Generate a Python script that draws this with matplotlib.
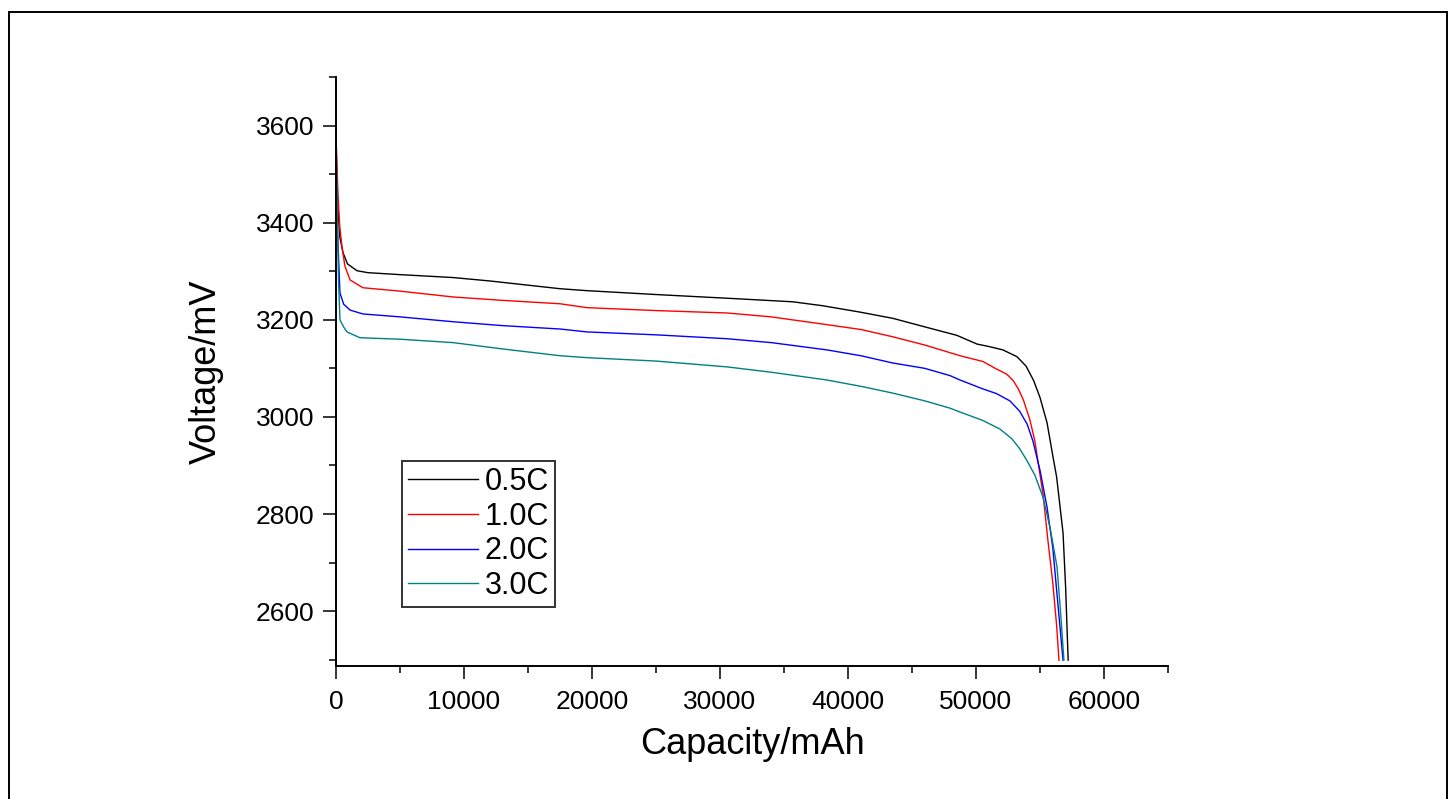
import matplotlib
matplotlib.use("Agg")
import matplotlib.pyplot as plt
from matplotlib.patches import Rectangle
from matplotlib.ticker import MultipleLocator

plt.rcParams['font.family'] = ['Liberation Sans Narrow', 'Liberation Sans', 'DejaVu Sans']

# discharge curves (capacity mAh, voltage mV)
cap_05 = [0, 150, 300, 550, 900, 1640, 2500, 5000, 9140, 12000, 17500, 19600, 25000,
          31560, 35700, 38000, 40900, 43500, 46200, 48500, 50080, 51000, 52100, 53200,
          53900, 54500, 55000, 55550, 56000, 56300, 56800, 57000, 57200]
volt_05 = [3560, 3430, 3370, 3338, 3315, 3301, 3297, 3293, 3287, 3280, 3264, 3260, 3252,
           3243, 3237, 3229, 3216, 3203, 3184, 3168, 3150, 3145, 3138, 3124,
           3105, 3075, 3040, 2988, 2920, 2876, 2761, 2650, 2499]

cap_10 = [0, 150, 300, 470, 700, 1100, 2100, 5000, 9140, 13000, 17500, 19600, 25000,
          30550, 34000, 38350, 41000, 43500, 46000, 48750, 50550, 51500, 52400, 52900,
          53300, 53700, 54200, 54600, 55240, 55600, 56000, 56300, 56480]
volt_10 = [3580, 3460, 3390, 3350, 3310, 3282, 3266, 3259, 3247, 3240, 3233, 3225, 3219,
           3214, 3206, 3190, 3180, 3165, 3148, 3126, 3114, 3100, 3088, 3075,
           3058, 3035, 2995, 2950, 2840, 2750, 2658, 2570, 2499]

cap_20 = [0, 120, 310, 600, 1100, 2100, 5000, 9140, 13000, 17500, 19600, 25000,
          30550, 34000, 38350, 41000, 43500, 46000, 47970, 48750, 50500, 51600, 52650,
          53400, 54000, 54450, 55000, 55550, 56000, 56300, 56800]
volt_20 = [3540, 3380, 3255, 3232, 3220, 3212, 3206, 3196, 3188, 3181, 3175, 3169,
           3161, 3153, 3138, 3126, 3111, 3100, 3085, 3076, 3058, 3048, 3033,
           3012, 2985, 2950, 2890, 2814, 2730, 2643, 2499]

cap_30 = [0, 100, 200, 310, 600, 860, 1875, 5000, 9140, 13000, 17500, 19600, 25000,
          30550, 34000, 38350, 41000, 43500, 46000, 47970, 48750, 50500, 51870, 52800,
          53400, 53980, 54600, 55230, 55800, 56330, 56600, 56870]
volt_30 = [3600, 3420, 3280, 3200, 3185, 3175, 3163, 3160, 3153, 3140, 3126, 3122, 3115,
           3103, 3092, 3076, 3063, 3049, 3033, 3018, 3010, 2993, 2975, 2955,
           2935, 2910, 2880, 2835, 2770, 2691, 2600, 2499]

labels = ['0.5C', '1.0C', '2.0C', '3.0C']
colors = ['#000000', '#ff0000', '#0000ff', '#008080']

fig = plt.figure(figsize=(14.54, 7.99), dpi=100)
ax = fig.add_axes([336 / 1454, 133 / 799, 832 / 1454, 589 / 799])

series = [(cap_05, volt_05), (cap_10, volt_10), (cap_20, volt_20), (cap_30, volt_30)]
for (x, y), lab, c in zip(series, labels, colors):
    ax.plot(x, y, color=c, lw=1.0, label=lab)

ax.set_xlim(0, 65000)
ax.set_ylim(2487, 3700)
ax.xaxis.set_major_locator(MultipleLocator(10000))
ax.xaxis.set_minor_locator(MultipleLocator(5000))
ax.yaxis.set_major_locator(MultipleLocator(200))
ax.yaxis.set_minor_locator(MultipleLocator(100))

for side in ['top', 'right']:
    ax.spines[side].set_visible(False)
for side in ['left', 'bottom']:
    ax.spines[side].set_linewidth(1.4)

ax.tick_params(which='major', direction='out', length=9.5, width=1.1, labelsize=19)
ax.tick_params(which='minor', direction='out', length=5, width=1.1)
ax.tick_params(axis='y', which='major', pad=6)
ax.tick_params(axis='x', which='major', pad=8)

ax.set_xlabel('Capacity/mAh', fontsize=26, labelpad=9)
ax.set_ylabel('Voltage/mV', fontsize=26, labelpad=23)

leg = ax.legend(loc='upper left', bbox_to_anchor=(0.0793, 0.348), borderaxespad=0,
                fontsize=22, fancybox=False, frameon=True, handlelength=2.3,
                handletextpad=0.2, labelspacing=0.15, borderpad=0.2)
leg.get_frame().set_edgecolor('black')
leg.get_frame().set_linewidth(1.4)

# page border around the figure
fig.patches.append(Rectangle((9 / 1454, -0.05), 1438 / 1454, (799 - 12) / 799 + 0.05,
                             transform=fig.transFigure, fill=False, edgecolor='black',
                             lw=1.4))

fig.savefig('out.png', dpi=100)
